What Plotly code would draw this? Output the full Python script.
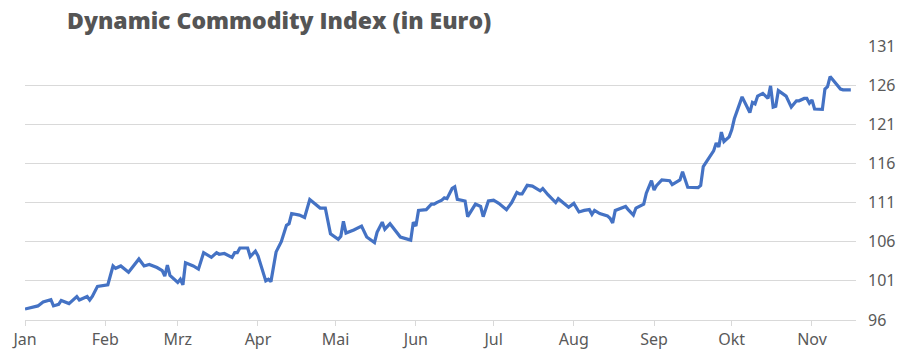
import pandas as pd
import plotly.graph_objects as go

# Day offsets from 1 January (trading days)
day_offsets = [
    0, 3, 5, 7, 10, 11, 13, 14, 17, 20, 21, 24, 25, 26, 28, 32, 34, 35, 37, 40,
    42, 44, 46, 48, 51, 53, 54, 55, 56, 59, 60, 61, 62, 65, 67, 69, 72, 74, 75, 77,
    80, 81, 82, 83, 86, 87, 89, 90, 93, 94, 95, 97, 99, 100, 101, 102, 103, 106, 108, 110,
    113, 114, 116, 118, 121, 122, 123, 124, 127, 130, 132, 135, 136, 138, 139, 141, 145, 146, 149, 150,
    151, 152, 155, 157, 158, 159, 161, 162, 163, 165, 166, 167, 170, 171, 174, 176, 177, 179, 181, 183,
    186, 188, 190, 191, 192, 194, 196, 199, 200, 202, 205, 206, 208, 210, 212, 214, 216, 218, 219, 220,
    222, 225, 226, 227, 228, 231, 232, 233, 235, 236, 239, 240, 242, 243, 244, 246, 249, 250, 252, 253,
    254, 256, 260, 261, 262, 264, 266, 267, 268, 269, 270, 272, 273, 274, 276, 277, 280, 281, 282, 283,
    285, 286, 287, 288, 289, 290, 291, 294, 296, 298, 299, 301, 302, 303, 304, 305, 308, 309, 310, 311,
    315, 316, 319,
]

index_values = [
    97.4, 97.7, 97.8, 98.3, 98.6, 97.8, 98.0, 98.5, 98.1, 99.0, 98.55, 99.0, 98.55, 99.0, 100.3, 100.5, 102.9, 102.6, 102.9, 102.1,
    102.9, 103.8, 102.9, 103.1, 102.7, 102.3, 101.6, 103.0, 101.7, 100.8, 101.2, 100.5, 103.3, 102.9, 102.5, 104.6, 104.0, 104.6, 104.4, 104.5,
    104.0, 104.6, 104.6, 105.2, 105.2, 104.1, 104.8, 104.2, 101.0, 101.2, 100.9, 104.7, 106.0, 107.1, 108.1, 108.3, 109.6, 109.4, 109.1, 111.4,
    110.6, 110.3, 110.3, 107.0, 106.3, 106.7, 108.6, 107.1, 107.5, 108.0, 106.6, 105.9, 107.2, 108.5, 107.6, 108.3, 106.6, 106.5, 106.2, 108.5,
    108.0, 110.0, 110.1, 110.8, 110.8, 111.0, 111.3, 111.6, 111.5, 112.8, 113.0, 111.4, 111.2, 109.2, 110.8, 110.5, 109.2, 111.2, 111.3, 110.9,
    110.1, 111.0, 112.3, 112.1, 112.1, 113.2, 113.1, 112.5, 112.8, 112.0, 111.0, 111.5, 111.0, 110.4, 110.9, 109.8, 110.0, 110.1, 109.5, 110.0,
    109.6, 109.3, 109.0, 108.4, 110.0, 110.3, 110.5, 110.1, 109.4, 110.3, 110.8, 112.2, 113.8, 112.6, 113.2, 113.9, 113.8, 113.3, 113.7, 113.9,
    114.95, 112.95, 112.9, 113.2, 115.6, 116.6, 117.6, 118.6, 118.1, 120.0, 118.8, 119.4, 120.3, 121.7, 123.5, 124.5, 122.5, 123.8, 123.6, 124.6,
    124.95, 124.6, 124.3, 125.9, 123.2, 123.3, 125.3, 124.6, 123.2, 124.0, 124.0, 124.3, 124.3, 123.7, 124.1, 122.95, 122.9, 125.5, 125.8, 127.1,
    125.5, 125.4, 125.4,
]

month_starts = ["2021-01-01", "2021-02-01", "2021-03-01", "2021-04-01", "2021-05-01", "2021-06-01",
                "2021-07-01", "2021-08-01", "2021-09-01", "2021-10-01", "2021-11-01"]
month_labels = ["Jan", "Feb", "Mrz", "Apr", "Mai", "Jun", "Jul", "Aug", "Sep", "Okt", "Nov"]
y_ticks = [96, 101, 106, 111, 116, 121, 126, 131]

dates = pd.Timestamp("2021-01-01") + pd.to_timedelta(day_offsets, unit="D")

fig = go.Figure()
fig.add_trace(go.Scatter(
    x=dates, y=index_values, mode="lines",
    line=dict(color="#4472C4", width=3.2), hoverinfo="x+y",
))

fig.update_layout(
    width=912, height=359,
    margin=dict(l=25, r=56, t=46, b=39, autoexpand=False),
    paper_bgcolor="white", plot_bgcolor="white",
    showlegend=False,
    font=dict(family="Noto Sans, sans-serif", color="#595959", size=16),
    title=dict(
        text="Dynamic Commodity Index (in Euro)",
        x=67 / 912, xref="container", xanchor="left",
        y=1 - 21 / 359, yref="container", yanchor="middle",
        font=dict(family="Open Sans, sans-serif", size=23, color="#555555", weight=800),
    ),
)

fig.update_xaxes(
    type="date", automargin=False,
    range=["2021-01-01", "2021-11-18"],
    tickvals=month_starts, ticktext=month_labels,
    showgrid=False, zeroline=False,
    showline=True, linecolor="#d9d9d9", linewidth=1,
    ticks="outside", ticklen=5, tickcolor="#d9d9d9",
    tickfont=dict(size=16, color="#595959"),
)
fig.update_yaxes(
    range=[96, 131], side="right", automargin=False,
    tickvals=y_ticks, ticktext=[str(v) for v in y_ticks],
    showgrid=True, gridcolor="#d9d9d9", gridwidth=1,
    zeroline=False, showline=False, ticks="",
    ticklabelstandoff=11,
    tickfont=dict(size=16, color="#595959"),
)

fig.write_html(
    "out.html",
    config={"displayModeBar": False},
    post_script="document.body.style.margin='0px';document.body.style.overflow='hidden';",
)
